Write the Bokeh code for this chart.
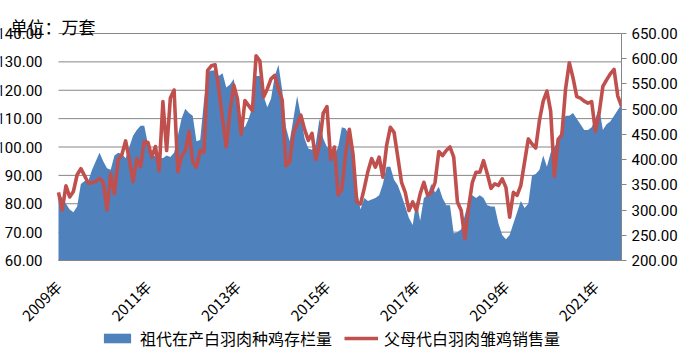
import math
from bokeh.plotting import figure
from bokeh.models import (Range1d, LinearAxis, Legend, LegendItem, Label,
                          FixedTicker, PrintfTickFormatter)
from bokeh.core.properties import value
from bokeh.embed import file_html
from bokeh.resources import INLINE

# ---- data (monthly, 2009-01 .. 2021-08) ----
year_ticks = [0, 24, 48, 72, 96, 120, 144]
year_labels = ["2009年", "2011年", "2013年", "2015年", "2017年", "2019年", "2021年"]

gp_stock = [  # 祖代在产白羽肉种鸡存栏量 (left axis)
    84, 82, 80, 78, 77, 79, 87, 88, 88, 92, 95, 98,
    95, 92.5, 92, 97, 98, 97.5, 96, 100, 104, 106, 107.5, 107.5,
    101, 96.5, 97, 96.5, 96, 97, 96.5, 98, 104, 110, 113.5, 112,
    111, 102, 102.5, 116, 126.5, 127, 127, 125, 126, 121, 122, 124,
    116, 108, 107, 110, 114, 125, 125, 118, 114, 117, 125, 129,
    120, 107, 102, 110, 118, 111, 103, 99.5, 99, 101, 110, 103,
    100, 99, 97, 100, 107, 106.5, 104, 95, 85, 78, 82, 81,
    81.5, 82, 83, 87, 93, 93, 88.5, 86.5, 83, 79, 75, 72.5,
    81, 74, 82, 83, 87, 84, 86, 82, 79.5, 79.5, 69.5, 70,
    71, 76, 81, 83, 82, 83, 82, 79.5, 79, 79, 73, 69,
    67.5, 69, 73, 77, 81, 78.5, 80, 90, 90.5, 92, 97, 93,
    98, 100, 102, 107, 111, 111, 112, 110, 108, 106, 106, 107,
    110, 114, 106, 108, 109, 111, 113, 115,
]

ps_sales = [  # 父母代白羽肉雏鸡销售量 (right axis)
    335, 300, 348, 326, 337, 370, 382, 368, 353, 354, 357, 363,
    355, 300, 372, 332, 400, 410, 437, 400, 356, 402, 386, 436,
    434, 405, 426, 378, 515, 418, 522, 538, 376, 407, 417, 456,
    395, 385, 418, 415, 577, 586, 588, 540, 480, 425, 496, 548,
    520, 450, 517, 507, 497, 606, 596, 524, 540, 560, 567, 540,
    518, 388, 395, 454, 470, 488, 460, 438, 452, 400, 430, 492,
    505, 400, 425, 330, 342, 411, 460, 410, 316, 312, 343, 377,
    402, 385, 405, 365, 428, 464, 454, 405, 355, 335, 299, 316,
    299, 332, 355, 329, 335, 355, 416, 408, 418, 425, 405, 316,
    299, 243, 306, 355, 375, 375, 398, 372, 343, 352, 349, 362,
    345, 286, 335, 329, 349, 395, 441, 431, 423, 478, 516, 536,
    496, 367, 440, 449, 540, 592, 562, 525, 522, 516, 512, 515,
    456, 492, 545, 558, 570, 579, 526, 506,
]
months = list(range(len(gp_stock)))
left_ticks = list(range(60, 141, 10))
right_ticks = list(range(200, 651, 50))

BLUE = "#4F81BD"
RED = "#C0504D"
GRID = "#868686"
NUM_FONT = "Roboto"
CJK_FONT = "Noto Sans CJK SC"

# layout (pixels): the frame covers the whole canvas except the right axis panel;
# the chart itself occupies a 563 x 227 region inside it.
CHART_W, CHART_H = 563, 227
PAD_L, PAD_T, PAD_B = 58, 33, 92
x_first, x_last = months[0], months[-1]
ppx = CHART_W / (x_last - x_first)
L_MIN, L_MAX = left_ticks[0], left_ticks[-1]
R_MIN, R_MAX = right_ticks[0], right_ticks[-1]
ppl = CHART_H / (L_MAX - L_MIN)
ppr = CHART_H / (R_MAX - R_MIN)

p = figure(frame_width=CHART_W + PAD_L, frame_height=PAD_T + CHART_H + PAD_B,
           output_backend="svg", toolbar_location=None, title=None,
           x_range=Range1d(x_first - PAD_L / ppx, x_last),
           y_range=Range1d(L_MIN - PAD_B / ppl, L_MAX + PAD_T / ppl),
           min_border_left=0, min_border_right=55, min_border_top=0,
           min_border_bottom=0)
p.outline_line_color = None
p.extra_y_ranges = {"right": Range1d(R_MIN - PAD_B / ppr, R_MAX + PAD_T / ppr)}

# horizontal grid lines across the chart region only
p.segment(x0=[x_first] * len(left_ticks), x1=[x_last] * len(left_ticks),
          y0=left_ticks, y1=left_ticks, line_color=GRID, line_width=1, level="underlay")

area = p.varea(x=months, y1=L_MIN, y2=gp_stock, fill_color=BLUE)
line = p.line(months, ps_sales, y_range_name="right", line_color=RED, line_width=3.6,
              line_join="round")

# unit text
p.add_layout(Label(x=x_first - (PAD_L - 10) / ppx, y=L_MAX + (PAD_T - 13) / ppl,
                   text="单位：万套", text_align="left", text_baseline="top",
                   text_font=CJK_FONT, text_font_size="17px", text_color="#000000"))

# left axis, drawn at the left edge of the chart region
ly = p.yaxis[0]
ly.fixed_location = x_first
ly.bounds = (L_MIN, L_MAX)
ly.ticker = FixedTicker(ticks=left_ticks)
ly.formatter = PrintfTickFormatter(format="%.2f")
ly.axis_line_color = None
ly.major_tick_line_color = None
ly.minor_tick_line_color = None
ly.major_label_standoff = 10
ly.major_label_text_font = NUM_FONT
ly.major_label_text_font_size = "15px"
ly.major_label_text_color = "#000000"

# right axis
ry = LinearAxis(y_range_name="right", bounds=(R_MIN, R_MAX),
                ticker=FixedTicker(ticks=right_ticks),
                formatter=PrintfTickFormatter(format="%.2f"))
ry.axis_line_color = GRID
ry.major_tick_line_color = GRID
ry.major_tick_out = 5
ry.major_tick_in = 0
ry.minor_tick_line_color = None
ry.major_label_standoff = 5
ry.major_label_text_font = NUM_FONT
ry.major_label_text_font_size = "15px"
ry.major_label_text_color = "#000000"
p.add_layout(ry, "right")

# x axis drawn at the bottom of the chart region
xa = p.xaxis[0]
xa.fixed_location = L_MIN
xa.bounds = (x_first, x_last)
xa.ticker = FixedTicker(ticks=year_ticks)
xa.major_label_overrides = {t: l for t, l in zip(year_ticks, year_labels)}
xa.major_label_orientation = math.pi / 4
xa.axis_line_color = GRID
xa.major_tick_line_color = None
xa.minor_tick_line_color = None
xa.major_label_standoff = 17
xa.major_label_text_font = CJK_FONT
xa.major_label_text_font_size = "15px"
xa.major_label_text_color = "#000000"

p.xgrid.visible = False
p.ygrid.visible = False

legend = Legend(items=[LegendItem(label="祖代在产白羽肉种鸡存栏量", renderers=[area]),
                       LegendItem(label="父母代白羽肉雏鸡销售量", renderers=[line])],
                orientation="horizontal", location=(PAD_L + 42, 2),
                border_line_color=None, background_fill_alpha=0,
                padding=5, margin=0, glyph_width=34, glyph_height=12,
                label_standoff=6, spacing=12,
                label_text_font=CJK_FONT, label_text_font_size="16px",
                label_text_color="#000000")
p.add_layout(legend, "center")

open("out.html", "w").write(file_html(p, INLINE))
